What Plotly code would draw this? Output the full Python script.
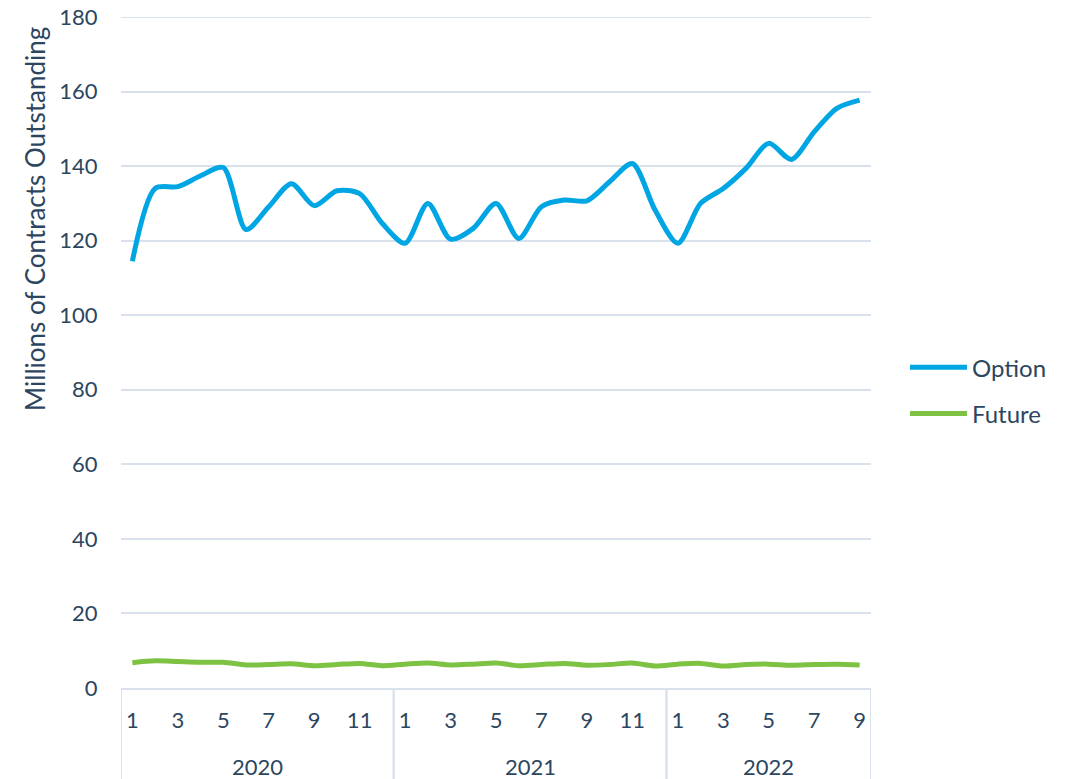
import plotly.graph_objects as go

years = [2020] * 12 + [2021] * 12 + [2022] * 9
months = list(range(1, 13)) + list(range(1, 13)) + list(range(1, 10))

option = [114.5, 134.0, 134.5, 137.4, 139.6, 123.0, 129.1, 135.3, 129.4, 133.4, 132.6, 124.6,
          119.3, 130.0, 120.4, 123.3, 130.0, 120.6, 129.1, 130.9, 130.7, 135.8, 140.7, 128.2,
          119.3, 130.0, 134.0, 139.4, 146.1, 141.8, 149.2, 155.5, 157.7]
future = [6.8, 7.3, 7.1, 6.9, 6.9, 6.2, 6.3, 6.5, 6.0, 6.3, 6.6, 6.0,
          6.4, 6.7, 6.2, 6.4, 6.7, 6.0, 6.3, 6.6, 6.1, 6.3, 6.7, 5.9,
          6.4, 6.6, 5.9, 6.3, 6.4, 6.1, 6.3, 6.4, 6.2]

y_ticks = list(range(0, 181, 20))
x = list(range(len(months)))

TEXT = "#2d4660"
GRID = "#d9e2ec"
FONT = "Lato"

fig = go.Figure()
fig.add_trace(go.Scatter(x=x, y=option, name="Option", mode="lines",
                         line=dict(color="#00a6e3", width=5, shape="spline", smoothing=0.8),
                         legendgroup="a"))
fig.add_trace(go.Scatter(x=x, y=future, name="Future", mode="lines",
                         line=dict(color="#7dc242", width=5, shape="spline", smoothing=0.8),
                         legendgroup="b"))

tickvals = [i for i, m in enumerate(months) if m % 2 == 1]
ticktext = [str(months[i]) for i in tickvals]

groups = []
for i, yr in enumerate(years):
    if not groups or groups[-1][0] != yr:
        groups.append([yr, i, i])
    else:
        groups[-1][2] = i

shapes = []
annotations = []
for yr, s, e in groups:
    annotations.append(dict(x=(s + e) / 2, y=-0.1177, xref="x", yref="paper",
                            text=str(yr), showarrow=False,
                            font=dict(family=FONT, size=22, color=TEXT),
                            xanchor="center", yanchor="middle"))
    for xv in (s - 0.5, e + 0.5):
        shapes.append(dict(type="line", xref="x", yref="paper", x0=xv, x1=xv,
                           y0=0, y1=-0.2, line=dict(color=GRID, width=2), layer="below"))

# top gridline (plotly omits the gridline at the very edge of the range)
shapes.append(dict(type="line", xref="paper", yref="y", x0=0, x1=1,
                   y0=y_ticks[-1], y1=y_ticks[-1], line=dict(color=GRID, width=2),
                   layer="below"))

annotations.append(dict(x=-0.1147, y=0.699, xref="paper", yref="paper",
                        text="Millions of Contracts Outstanding", textangle=-90,
                        showarrow=False, xanchor="center", yanchor="middle",
                        font=dict(family=FONT, size=26, color=TEXT)))

fig.update_layout(
    width=1068, height=779,
    margin=dict(l=121, r=197, t=17, b=91),
    plot_bgcolor="white", paper_bgcolor="white",
    font=dict(family=FONT, size=22, color=TEXT),
    showlegend=True,
    legend=dict(x=1.0453, y=0.443, xanchor="left", yanchor="middle",
                font=dict(family=FONT, size=24, color=TEXT),
                tracegroupgap=12, itemwidth=57, bgcolor="rgba(0,0,0,0)"),
    shapes=shapes,
    annotations=annotations,
)
fig.update_xaxes(range=[-0.5, len(x) - 0.5], tickvals=tickvals, ticktext=ticktext,
                 showgrid=False, zeroline=False, showline=True, linecolor=GRID, linewidth=2,
                 ticks="outside", ticklen=12, tickcolor="rgba(0,0,0,0)", automargin=False,
                 tickfont=dict(family=FONT, size=22, color=TEXT))
fig.update_yaxes(range=[0, 180], tickvals=y_ticks, showgrid=True, gridcolor=GRID, gridwidth=2,
                 zeroline=False, showline=False, ticks="outside", ticklen=18,
                 tickcolor="rgba(0,0,0,0)", automargin=False, ticklabeloverflow="allow",
                 tickfont=dict(family=FONT, size=22, color=TEXT))

fig.write_html("out.html", config={"displayModeBar": False},
               post_script="document.body.style.margin='0';")
